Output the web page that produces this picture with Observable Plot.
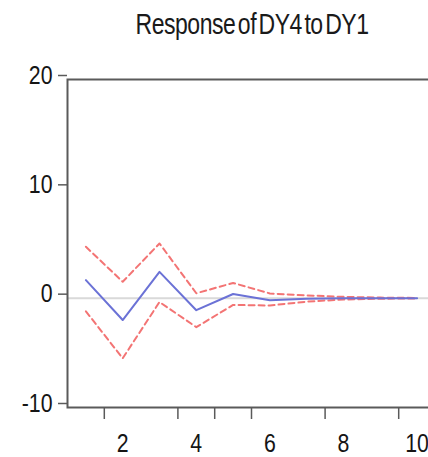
<!DOCTYPE html>
<html>
<head>
<meta charset="utf-8">
<script src="https://cdn.jsdelivr.net/npm/d3@7"></script>
<script src="https://cdn.jsdelivr.net/npm/@observablehq/plot@0.6"></script>
<style>
  html, body { margin: 0; padding: 0; background: #fff; overflow: hidden; width: 428px; height: 457px; }
  #title { position: relative; height: 50px; width: 428px; overflow: visible; }
  #title span { position: absolute; left: 251.5px; top: 6px; white-space: nowrap; font-family: "Liberation Sans", Arial, sans-serif;
    font-size: 30px; line-height: 35px; color: #1a1a1a; letter-spacing: -0.6px; word-spacing: -4.5px; transform-origin: 0 0; }
  #chart { width: 428px; height: 407px; overflow: hidden; }
  #chart svg { display: block; max-width: none !important; }
</style>
</head>
<body>
<div id="title"><span>Response of DY4 to DY1</span></div>
<div id="chart"></div>
<script>
const periods  = [1, 2, 3, 4, 5, 6, 7, 8, 9, 10];
const response = [1.65, -2.0, 2.4, -1.1, 0.38, -0.2, -0.05, 0.0, 0.0, 0.0];
const upper    = [4.7, 1.5, 5.0, 0.45, 1.39, 0.43, 0.25, 0.12, 0.05, 0.02];
const lower    = [-1.2, -5.5, -0.35, -2.65, -0.62, -0.67, -0.32, -0.12, -0.05, -0.02];
const yTicks = [-10, 0, 10, 20];
const xLabelTicks = [2, 4, 6, 8, 10];
const xMarkTicks = [1.5, 3.5, 4.5, 5.5, 7.5, 9.5];
const xDomain = [0.5, 10.5];
const yDomain = [-10, 20];

// title: condense to the reference's width, centred
const span = document.querySelector("#title span");
const w = span.getBoundingClientRect().width;
const k = 233 / w;
span.style.transform = `translateX(${-116.5}px) scale(${k}, 1)`;

const rows = periods.map((p, i) => ({period: p, response: response[i], upper: upper[i], lower: lower[i]}));

const chart = Plot.plot({
  width: 436,
  height: 407,
  marginLeft: 67,
  marginRight: 1,
  marginTop: 29,
  marginBottom: 50,
  x: {domain: xDomain, label: null},
  y: {domain: yDomain, label: null},
  style: {fontFamily: "'Liberation Sans', Arial, sans-serif", color: "#151515", background: "#fff", maxWidth: "none"},
  marks: [
    Plot.ruleY([0], {stroke: "#d9d9d9", strokeWidth: 2}),
    Plot.line(rows, {x: "period", y: "upper", stroke: "#f37474", strokeWidth: 2, strokeDasharray: "6,4"}),
    Plot.line(rows, {x: "period", y: "lower", stroke: "#f37474", strokeWidth: 2, strokeDasharray: "6,4"}),
    Plot.line(rows, {x: "period", y: "response", stroke: "#6b72d6", strokeWidth: 2}),
    Plot.frame({stroke: "#5a5a5a", strokeWidth: 2}),
    Plot.axisY({ticks: yTicks, tickSize: 9, tickPadding: 6, fontSize: 26, dy: -4, label: null, tickFormat: d => String(d), stroke: "#5a5a5a", strokeWidth: 1.5}),
    Plot.axisX({ticks: xMarkTicks, tickSize: 12, label: null, tickFormat: () => "", stroke: "#5a5a5a", strokeWidth: 1.5}),
    Plot.axisX({ticks: xLabelTicks, tickSize: 0, tickPadding: 26, label: null, fontSize: 26, tickFormat: d => String(d)})
  ]
});
document.getElementById("chart").appendChild(chart);

// condense tick labels horizontally like the reference
chart.querySelectorAll('g[aria-label$="tick label"] text').forEach(t => {
  const tr = t.getAttribute("transform") || "";
  t.setAttribute("transform", tr + " scale(0.82,1)");
});
</script>
</body>
</html>
